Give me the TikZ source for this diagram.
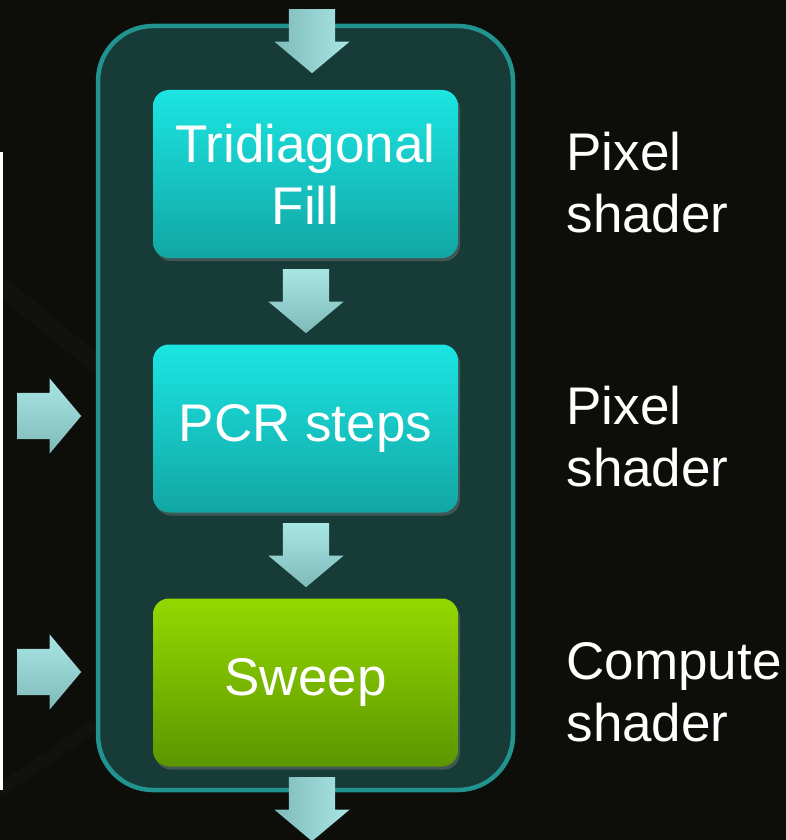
\documentclass[tikz,border=0pt]{standalone}
\usepackage{fontspec}
\setmainfont{Liberation Sans}
\usepackage{tikz}
\usetikzlibrary{shapes.arrows, positioning, shadows}

\definecolor{bgdark}{HTML}{0D0D09}
\definecolor{panelfill}{HTML}{173C38}
\definecolor{panelline}{HTML}{22938E}
\definecolor{cyantop}{HTML}{1BE5E2}
\definecolor{cyanbot}{HTML}{12A6A4}
\definecolor{greentop}{HTML}{95D800}
\definecolor{greenbot}{HTML}{5C9600}
\definecolor{arrowlight}{HTML}{A8E6E5}
\definecolor{arrowdark}{HTML}{7FBAB9}

\begin{document}
\begin{tikzpicture}[
    x=1pt, y=-1pt,
    stagebox/.style={rectangle, rounded corners=16pt, minimum width=305pt, minimum height=168pt,
        text=white, align=center, font=\fontsize{53}{62}\selectfont,
        drop shadow={shadow xshift=2pt, shadow yshift=-3pt, opacity=0.4}},
    gpu/.style={stagebox, top color=cyantop, bottom color=cyanbot},
    cpu/.style={stagebox, top color=greentop, bottom color=greenbot},
    blockarrow/.style={single arrow, anchor=tail, minimum height=64pt, minimum width=0pt,
        single arrow head extend=14.5pt, single arrow tip angle=100, draw=none},
    downarrow/.style={blockarrow, inner xsep=23pt, inner ysep=0pt, shape border rotate=270,
        top color=arrowlight, bottom color=arrowdark},
    rightarrow/.style={blockarrow, inner xsep=0pt, inner ysep=23pt, shape border rotate=0,
        top color=arrowlight, bottom color=arrowdark},
    label/.style={anchor=west, align=left, text=white, font=\fontsize{53}{62}\selectfont}
]

% Background
\fill[bgdark] (0,0) rectangle (786,840);
\useasboundingbox (0,0) rectangle (786,840);
\draw[white, opacity=0.02, line width=18pt] (0,285) -- (140,400);
\draw[white, opacity=0.02, line width=12pt] (0,790) -- (96,725);
\draw[white, line width=3pt] (1.5,152) -- (1.5,790);

% Pipeline panel
\draw[panelline, fill=panelfill, line width=4.5pt, rounded corners=55pt] (98,26) rectangle (513,790);

% Stages
\node[gpu] (fill) at (305.5,174) {Tridiagonal\\Fill};
\node[gpu] (pcr) at (305.5,428.5) {PCR steps};
\node[cpu] (sweep) at (305.5,682.5) {Sweep};

% Flow arrows
\node[downarrow, left color=arrowdark, right color=arrowlight] (in) at (312,9) {};
\node[downarrow] (a1) at (306,269) {};
\node[downarrow] (a2) at (306,523) {};
\node[downarrow, left color=arrowdark, right color=arrowlight] (out) at (312,777) {};
\node[rightarrow] (l1) at (17,416) {};
\node[rightarrow] (l2) at (17,672) {};

% Shader labels
\node[label] (lfill) at (563,183) {Pixel\\shader};
\node[label] (lpcr) at (563,437) {Pixel\\shader};
\node[label] (lsweep) at (563,692) {Compute\\shader};

\end{tikzpicture}
\end{document}
